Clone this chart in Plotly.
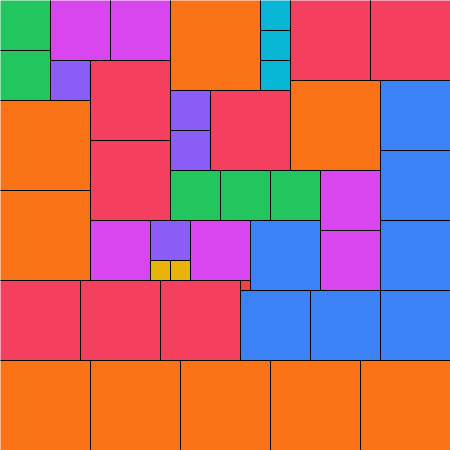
import plotly.graph_objects as go

# Partridge tiling: k squares of side k (k = 1..9) filling a 45 x 45 square
GRID = 45
square_sizes = [9, 8, 7, 6, 5, 4, 3, 2, 1]
size_colors = {
    9: "#f97316", 8: "#f43f5e", 7: "#3b82f6", 6: "#d946ef", 5: "#22c55e",
    4: "#8b5cf6", 3: "#06b6d4", 2: "#eab308", 1: "#ef4444",
}
# square origins (column, row) in grid units, grouped by side length
square_cols = {
    9: [17, 29, 0, 0, 0, 9, 18, 27, 36],
    8: [29, 37, 9, 21, 9, 0, 8, 16],
    7: [38, 38, 38, 38, 25, 24, 31],
    6: [5, 11, 32, 32, 9, 19],
    5: [0, 0, 17, 22, 27],
    4: [5, 17, 17, 15],
    3: [26, 26, 26],
    2: [15, 17],
    1: [24],
}
square_rows = {
    9: [0, 8, 10, 19, 36, 36, 36, 36, 36],
    8: [0, 0, 6, 9, 14, 28, 28, 28],
    7: [8, 15, 22, 29, 22, 29, 29],
    6: [0, 0, 17, 23, 22, 22],
    5: [0, 5, 17, 17, 17],
    4: [6, 9, 13, 22],
    3: [0, 3, 6],
    2: [26, 26],
    1: [28],
}

fig = go.Figure()
ex, ey = [], []
for s in square_sizes:
    xs, ys = [], []
    for c, r in zip(square_cols[s], square_rows[s]):
        xs += [c, c + s, c + s, c, c, None]
        ys += [r, r, r + s, r + s, r, None]
        if c + s < GRID:
            ex += [c + s, c + s, None]
            ey += [r, r + s, None]
        if r + s < GRID:
            ex += [c, c + s, None]
            ey += [r + s, r + s, None]
    fig.add_trace(go.Scatter(
        x=xs, y=ys, mode="lines", fill="toself",
        fillcolor=size_colors[s], line=dict(width=0, color=size_colors[s]),
        hoverinfo="skip", showlegend=False,
    ))
fig.add_trace(go.Scatter(
    x=ex, y=ey, mode="lines", line=dict(color="#000000", width=1),
    hoverinfo="skip", showlegend=False,
))

fig.update_layout(
    width=450, height=450,
    margin=dict(l=0, r=0, t=0, b=0),
    paper_bgcolor="white", plot_bgcolor="white",
    xaxis=dict(range=[-0.05, GRID - 0.05], visible=False, fixedrange=True),
    yaxis=dict(range=[GRID - 0.05, -0.05], visible=False, fixedrange=True),
)
fig.write_html(
    "out.html",
    config={"displayModeBar": False},
    post_script="document.body.style.margin='0';document.body.style.overflow='hidden';",
)
